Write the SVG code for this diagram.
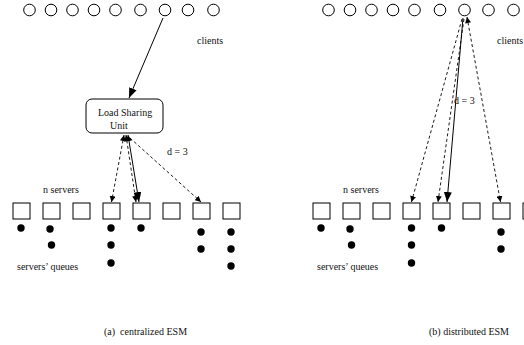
<svg xmlns="http://www.w3.org/2000/svg" width="524" height="345" viewBox="0 0 524 345">
  <defs>
    <style>
      .cl { fill: none; stroke: #000; stroke-width: 1; }
      .srv { fill: #fff; stroke: #000; stroke-width: 1; }
      .q { fill: #000; }
      .lsu { fill: #fff; stroke: #000; stroke-width: 1; }
      .t { font-family: "Liberation Serif", "Times New Roman", serif; font-size: 10px; fill: #111; white-space: pre; }
      .solid { fill: none; stroke: #000; stroke-width: 1; }
      .dash { fill: none; stroke: #000; stroke-width: 0.9; stroke-dasharray: 3 2.5; }
    </style>
    <marker id="big" markerUnits="userSpaceOnUse" markerWidth="12" markerHeight="8" refX="10" refY="4" orient="auto">
      <path d="M0,0 L10,4 L0,8 Z" fill="#000"/>
    </marker>
    <marker id="sm" markerUnits="userSpaceOnUse" markerWidth="8" markerHeight="6" refX="6" refY="3" orient="auto">
      <path d="M0,0 L6,3 L0,6 Z" fill="#000"/>
    </marker>
    <marker id="sm-s" markerUnits="userSpaceOnUse" markerWidth="8" markerHeight="6" refX="0" refY="3" orient="auto">
      <path d="M6,0 L0,3 L6,6 Z" fill="#000"/>
    </marker>
  </defs>

  <!-- (a) centralized ESM -->
  <g id="clients-a">
    <circle class="cl" cx="29.5" cy="10" r="5.8"/>
    <circle class="cl" cx="51" cy="10" r="5.8"/>
    <circle class="cl" cx="72.5" cy="10" r="5.8"/>
    <circle class="cl" cx="94" cy="10" r="5.8"/>
    <circle class="cl" cx="115.5" cy="10" r="5.8"/>
    <circle class="cl" cx="140.5" cy="10" r="5.8"/>
    <circle class="cl" cx="165" cy="10" r="5.8"/>
    <circle class="cl" cx="188" cy="10" r="5.8"/>
    <circle class="cl" cx="213.5" cy="10" r="5.8"/>
    <text class="t" x="197" y="44">clients</text>
  </g>

  <g id="lsu">
    <rect class="lsu" x="86" y="99" width="77" height="34" rx="6"/>
    <text class="t" x="98" y="116">Load Sharing</text>
    <text class="t" x="110" y="129">Unit</text>
  </g>

  <g id="servers-a">
    <rect class="srv" x="13" y="203" width="17" height="16"/>
    <rect class="srv" x="43" y="203" width="17" height="16"/>
    <rect class="srv" x="73" y="203" width="17" height="16"/>
    <rect class="srv" x="103" y="203" width="17" height="16"/>
    <rect class="srv" x="133" y="203" width="17" height="16"/>
    <rect class="srv" x="163" y="203" width="17" height="16"/>
    <rect class="srv" x="193" y="203" width="17" height="16"/>
    <rect class="srv" x="223" y="203" width="17" height="16"/>
    <text class="t" x="43" y="193">n servers</text>
  </g>

  <g id="queues-a">
    <circle class="q" cx="21" cy="228" r="3.7"/>
    <circle class="q" cx="50" cy="229" r="3.7"/>
    <circle class="q" cx="51.5" cy="245" r="3.7"/>
    <circle class="q" cx="111" cy="228" r="3.7"/>
    <circle class="q" cx="111" cy="245" r="3.7"/>
    <circle class="q" cx="111" cy="263" r="3.7"/>
    <circle class="q" cx="141" cy="228" r="3.7"/>
    <circle class="q" cx="201" cy="232" r="3.7"/>
    <circle class="q" cx="201" cy="249" r="3.7"/>
    <circle class="q" cx="231" cy="232" r="3.7"/>
    <circle class="q" cx="231" cy="249" r="3.7"/>
    <circle class="q" cx="231" cy="266" r="3.7"/>
    <text class="t" x="17" y="270">servers’ queues</text>
  </g>

  <g id="connectors-a">
    <line class="solid" x1="163" y1="18" x2="129" y2="98" marker-end="url(#big)"/>
    <line class="dash" x1="124" y1="135" x2="111.5" y2="202" marker-start="url(#sm-s)" marker-end="url(#sm)"/>
    <line class="dash" x1="126" y1="135" x2="136" y2="202" marker-start="url(#sm-s)" marker-end="url(#sm)"/>
    <line class="solid" x1="128" y1="135" x2="139" y2="202" marker-start="url(#sm-s)" marker-end="url(#big)"/>
    <line class="dash" x1="130" y1="138" x2="201" y2="202" marker-end="url(#sm)"/>
    <text class="t" x="167" y="155">d = 3</text>
  </g>

  <text class="t" x="104" y="335">(a)  centralized ESM</text>

  <!-- (b) distributed ESM -->
  <g id="clients-b">
    <circle class="cl" cx="328.5" cy="10" r="5.8"/>
    <circle class="cl" cx="350" cy="10" r="5.8"/>
    <circle class="cl" cx="371.5" cy="10" r="5.8"/>
    <circle class="cl" cx="393" cy="10" r="5.8"/>
    <circle class="cl" cx="414.5" cy="10" r="5.8"/>
    <circle class="cl" cx="440" cy="10" r="5.8"/>
    <circle class="cl" cx="464.5" cy="10" r="5.8"/>
    <circle class="cl" cx="488.5" cy="10" r="5.8"/>
    <circle class="cl" cx="513.5" cy="10" r="5.8"/>
    <text class="t" x="497" y="44">clients</text>
  </g>

  <g id="servers-b">
    <rect class="srv" x="313" y="203" width="17" height="16"/>
    <rect class="srv" x="343" y="203" width="17" height="16"/>
    <rect class="srv" x="373" y="203" width="17" height="16"/>
    <rect class="srv" x="403" y="203" width="17" height="16"/>
    <rect class="srv" x="433" y="203" width="17" height="16"/>
    <rect class="srv" x="463" y="203" width="17" height="16"/>
    <rect class="srv" x="493" y="203" width="17" height="16"/>
    <rect class="srv" x="523" y="203" width="17" height="16"/>
    <text class="t" x="343" y="193">n servers</text>
  </g>

  <g id="queues-b">
    <circle class="q" cx="321" cy="228" r="3.7"/>
    <circle class="q" cx="350" cy="229" r="3.7"/>
    <circle class="q" cx="351.5" cy="245" r="3.7"/>
    <circle class="q" cx="411.5" cy="228" r="3.7"/>
    <circle class="q" cx="411.5" cy="245" r="3.7"/>
    <circle class="q" cx="411.5" cy="263" r="3.7"/>
    <circle class="q" cx="441.5" cy="228" r="3.7"/>
    <circle class="q" cx="501" cy="232" r="3.7"/>
    <circle class="q" cx="501" cy="249" r="3.7"/>
    <text class="t" x="317" y="270">servers’ queues</text>
  </g>

  <g id="connectors-b">
    <line class="dash" x1="462" y1="19" x2="411.5" y2="202" marker-end="url(#sm)"/>
    <line class="dash" x1="464" y1="19" x2="438" y2="202" marker-end="url(#sm)"/>
    <line class="solid" x1="463" y1="18" x2="447" y2="202" marker-end="url(#big)"/>
    <line class="dash" x1="467" y1="17" x2="500.5" y2="202" marker-start="url(#sm-s)" marker-end="url(#sm)"/>
    <text class="t" x="454" y="104">d = 3</text>
  </g>

  <text class="t" x="429" y="335">(b) distributed ESM</text>
</svg>
